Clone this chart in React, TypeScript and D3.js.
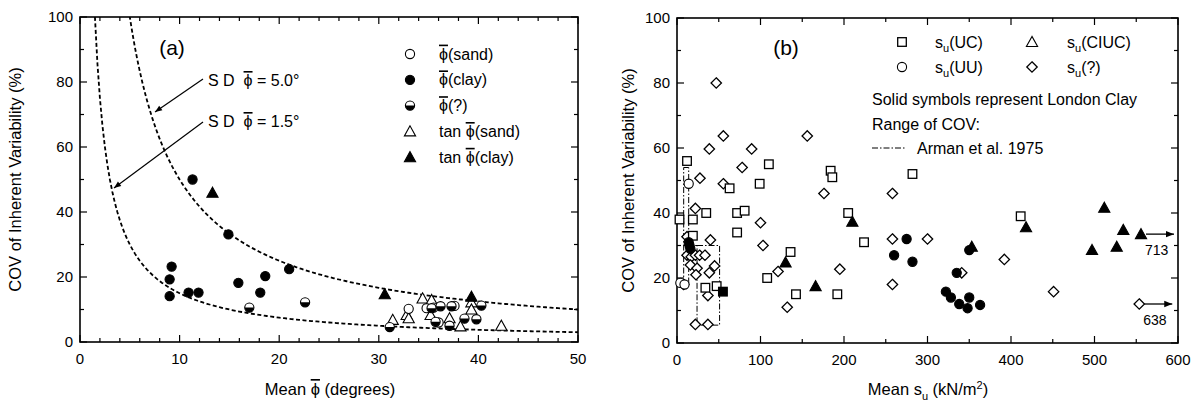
import React from "react";
import * as d3 from "d3";

// ---- panel (a): mean friction angle (deg) vs COV (%)
const phiSand = [[33.0, 10.2], [34.8, 10.4], [35.5, 10.6], [37.6, 11.1], [36.0, 6.0]];
const phiClay = [
  [11.3, 50], [14.9, 33.1], [9.2, 23.2], [9.0, 19.3], [9.0, 14.1], [10.9, 15.2],
  [11.9, 15.2], [15.9, 18.2], [18.1, 15.2], [18.6, 20.3], [21.0, 22.4],
];
const phiUnknown = [
  [17.0, 10.6], [22.6, 12.2], [31.1, 4.6], [35.3, 10.4], [36.2, 11.0], [37.3, 11.0],
  [35.7, 6.2], [37.1, 5.0], [38.6, 7.2], [39.8, 7.0], [40.3, 11.2],
];
const tanSand = [
  [31.4, 6.8], [32.8, 8.3], [33.0, 7.3], [34.4, 13.4], [35.3, 12.9], [35.2, 8.3],
  [37.1, 7.3], [38.2, 4.8], [39.3, 12.2], [39.3, 10.0], [42.3, 5.0],
];
const tanClay = [[13.3, 45.9], [30.6, 14.7], [39.3, 13.9]];
const sdValues = [5.0, 1.5];

// ---- panel (b): mean su (kN/m2) vs COV (%)
const suUC = [
  [12, 56], [110, 55], [63, 47.6], [99, 49], [184, 53], [186, 51], [282, 52], [72, 40],
  [81, 40.7], [72, 34], [205, 40], [224, 31], [136, 28], [108, 20], [142.5, 15], [192, 15],
  [411.6, 39], [3, 38], [19, 38], [19, 33], [35, 40], [47.5, 17.5], [34, 17],
];
const suUCLondon = [[55, 15.8]];
const suUU = [[14, 49], [4, 18.5], [9, 18]];
const suUULondon = [
  [14, 31], [15, 30], [16, 29], [275, 32], [260, 27], [282, 25], [350, 28.6], [335, 21.6],
  [322, 15.8], [328, 14], [338, 12], [348, 10.7], [350, 14], [363, 11.7],
];
const suCIUCLondon = [
  [210, 37.3], [130, 24.8], [166, 17.5], [353, 29.6], [418, 35.6], [511.7, 41.6],
  [534.5, 34.8], [555.7, 33.5], [497, 28.6], [526.6, 29.6],
];
const suUnknown = [
  [47, 80], [55.5, 63.7], [38.7, 59.7], [89.4, 59.7], [156, 63.7], [78, 54], [27.5, 50.7],
  [55.5, 49], [176, 46], [258, 46], [100, 37], [103, 30], [258, 32], [300, 32], [121, 22],
  [195, 22.7], [258, 18], [132, 11], [392, 25.7], [341, 21.6], [451, 15.8], [553.6, 12],
  [22, 41.4], [12, 32.7], [40, 31.7], [12, 27], [17, 26.5], [22, 27], [27, 27], [33.5, 27],
  [45, 23.7], [38.7, 21.6], [16, 24], [24, 23], [22.7, 21], [37, 14.6], [22, 5.7], [37, 5.7],
  [8, 18],
];
// off-scale points: [su shown, cov, real value]
const offScale = [[555.7, 33.5, "713"], [553.6, 12, "638"]];
// Arman et al. 1975 ranges: [su0, su1, cov0, cov1]
const armanBoxes = [[8, 14, 18, 54], [24, 51, 5.5, 30]];

const FONT = "Liberation Sans, Arial, Helvetica, sans-serif";
const NARROW = "Liberation Sans Narrow, Liberation Sans, Arial, sans-serif";

function Sym({ type, x, y }) {
  const r = 4.6;
  const sw = 1.1;
  if (type === "circle" || type === "dot") {
    return <circle cx={x} cy={y} r={r} fill={type === "dot" ? "#000" : "#fff"} stroke="#000" strokeWidth={sw} />;
  }
  if (type === "half") {
    return (
      <g>
        <circle cx={x} cy={y} r={r} fill="#fff" stroke="#000" strokeWidth={sw} />
        <path d={`M${x - r},${y} A${r},${r} 0 0 0 ${x + r},${y} Z`} fill="#000" />
      </g>
    );
  }
  if (type === "tri" || type === "trif") {
    const s = 5.6;
    return (
      <polygon
        points={`${x},${y - s} ${x - s},${y + s * 0.8} ${x + s},${y + s * 0.8}`}
        fill={type === "trif" ? "#000" : "#fff"}
        stroke="#000"
        strokeWidth={sw}
      />
    );
  }
  if (type === "sq" || type === "sqf") {
    const s = 4.3;
    return <rect x={x - s} y={y - s} width={s * 2} height={s * 2} fill={type === "sqf" ? "#000" : "#fff"} stroke="#000" strokeWidth={1.3} />;
  }
  const s = 5.2;
  return (
    <polygon points={`${x},${y - s} ${x + s},${y} ${x},${y + s} ${x - s},${y}`} fill="#fff" stroke="#000" strokeWidth={1.3} />
  );
}

// phi with a bar over it
const Phi = () => <tspan style={{ textDecoration: "overline" }}>{"\u03D5"}</tspan>;

function Frame({ x, y, xMinor, xMajor, yMinor, yMajor, xLabelX }) {
  const [x0, x1] = x.range();
  const [y0, y1] = y.range();
  const xt = d3.range(x.domain()[0], x.domain()[1] + 1e-9, xMinor);
  const yt = d3.range(y.domain()[0], y.domain()[1] + 1e-9, yMinor);
  const isMaj = (v, m) => Math.abs(v / m - Math.round(v / m)) < 1e-6;
  return (
    <g>
      {xt.map((v) => {
        const L = isMaj(v, xMajor) ? 7 : 4;
        return (
          <g key={"x" + v}>
            <line x1={x(v)} x2={x(v)} y1={y0} y2={y0 - L} stroke="#000" strokeWidth={1.2} />
            <line x1={x(v)} x2={x(v)} y1={y1} y2={y1 + L} stroke="#000" strokeWidth={1.2} />
            {isMaj(v, xMajor) && (
              <text x={x(v)} y={y0 + 22} textAnchor="middle" fontSize={15} fontFamily={NARROW}>
                {v}
              </text>
            )}
          </g>
        );
      })}
      {yt.map((v) => {
        const L = isMaj(v, yMajor) ? 7 : 4;
        return (
          <g key={"y" + v}>
            <line x1={x0} x2={x0 + L} y1={y(v)} y2={y(v)} stroke="#000" strokeWidth={1.2} />
            <line x1={x1} x2={x1 - L} y1={y(v)} y2={y(v)} stroke="#000" strokeWidth={1.2} />
            {isMaj(v, yMajor) && (
              <text x={x0 - 7} y={y(v)} dy="0.35em" textAnchor="end" fontSize={15} fontFamily={NARROW}>
                {v}
              </text>
            )}
          </g>
        );
      })}
      <rect x={x0} y={y1} width={x1 - x0} height={y0 - y1} fill="none" stroke="#000" strokeWidth={1.6} />
      <text
        transform={`translate(${xLabelX},${(y0 + y1) / 2}) rotate(-90)`}
        textAnchor="middle"
        dy="0.35em"
        fontSize={16.5}
        fontFamily={FONT}
      >
        COV of Inherent Variability (%)
      </text>
    </g>
  );
}

export default function App() {
  const xa = d3.scaleLinear().domain([0, 50]).range([80, 578]);
  const ya = d3.scaleLinear().domain([0, 100]).range([342, 17]);
  const xb = d3.scaleLinear().domain([0, 600]).range([677, 1178]);
  const yb = d3.scaleLinear().domain([0, 100]).range([343, 18]);

  const curve = d3
    .line()
    .x((d) => xa(d[0]))
    .y((d) => ya(d[1]));
  const means = d3.range(1.0, 50.01, 0.25);

  const legendA = [
    ["circle", "", "(sand)"],
    ["dot", "", "(clay)"],
    ["half", "", "(?)"],
    ["tri", "tan ", "(sand)"],
    ["trif", "tan ", "(clay)"],
  ];

  return (
    <svg width={1198} height={405} style={{ position: "absolute", left: 0, top: 0, background: "#fff" }}>
      <defs>
        <clipPath id="clipA">
          <rect x={80} y={17} width={498} height={325} />
        </clipPath>
        <marker id="arr" viewBox="0 0 10 10" refX={10} refY={5} markerWidth={9} markerHeight={7} orient="auto" markerUnits="userSpaceOnUse">
          <path d="M0,1 L10,5 L0,9 Z" fill="#000" />
        </marker>
        <marker id="arrB" viewBox="0 0 10 10" refX={10} refY={5} markerWidth={14} markerHeight={8} orient="auto" markerUnits="userSpaceOnUse">
          <path d="M0,1 L10,5 L0,9 Z" fill="#000" />
        </marker>
      </defs>

      {/* ---------- panel (a) ---------- */}
      <Frame x={xa} y={ya} xMinor={2} xMajor={10} yMinor={10} yMajor={20} xLabelX={15} />
      <g clipPath="url(#clipA)">
        {sdValues.map((sd) => (
          <path
            key={sd}
            d={curve(means.map((m) => [m, (sd / m) * 100]))}
            fill="none"
            stroke="#000"
            strokeWidth={1.8}
            strokeDasharray="4,2.5"
          />
        ))}
      </g>
      <line x1={203} y1={79} x2={155} y2={112} stroke="#000" strokeWidth={1.2} markerEnd="url(#arr)" />
      <line x1={203} y1={122} x2={114} y2={188} stroke="#000" strokeWidth={1.2} markerEnd="url(#arr)" />
      <text x={208} y={86} fontSize={16} fontFamily={FONT} xmlSpace="preserve">
        {"S D  "}
        <Phi />
        {" = 5.0°"}
      </text>
      <text x={208} y={127} fontSize={16} fontFamily={FONT} xmlSpace="preserve">
        {"S D  "}
        <Phi />
        {" = 1.5°"}
      </text>
      <text x={172} y={55} textAnchor="middle" fontSize={21} fontFamily={FONT}>
        (a)
      </text>
      {legendA.map(([t, pre, post], i) => (
        <g key={t}>
          <Sym type={t} x={410} y={54 + i * 25.8} />
          <text x={439} y={54 + i * 25.8} dy="0.35em" fontSize={16} fontFamily={FONT} xmlSpace="preserve">
            {pre}
            <Phi />
            {post}
          </text>
        </g>
      ))}
      {tanSand.map((d, i) => <Sym key={"ts" + i} type="tri" x={xa(d[0])} y={ya(d[1])} />)}
      {phiSand.map((d, i) => <Sym key={"ps" + i} type="circle" x={xa(d[0])} y={ya(d[1])} />)}
      {phiUnknown.map((d, i) => <Sym key={"pu" + i} type="half" x={xa(d[0])} y={ya(d[1])} />)}
      {phiClay.map((d, i) => <Sym key={"pc" + i} type="dot" x={xa(d[0])} y={ya(d[1])} />)}
      {tanClay.map((d, i) => <Sym key={"tc" + i} type="trif" x={xa(d[0])} y={ya(d[1])} />)}
      <text x={330} y={395} textAnchor="middle" fontSize={16.5} fontFamily={FONT} xmlSpace="preserve">
        {"Mean "}
        <Phi />
        {" (degrees)"}
      </text>

      {/* ---------- panel (b) ---------- */}
      <Frame x={xb} y={yb} xMinor={50} xMajor={100} yMinor={10} yMajor={20} xLabelX={628} />
      {armanBoxes.map((b, i) => (
        <rect
          key={"bx" + i}
          x={xb(b[0])}
          y={yb(b[3])}
          width={xb(b[1]) - xb(b[0])}
          height={yb(b[2]) - yb(b[3])}
          fill="none"
          stroke="#000"
          strokeWidth={1}
          strokeDasharray="6,2,1.5,2"
        />
      ))}
      <line x1={xb(armanBoxes[0][0])} x2={xb(armanBoxes[1][0])} y1={yb(armanBoxes[1][3])} y2={yb(armanBoxes[1][3])} stroke="#000" strokeWidth={1} strokeDasharray="6,2,1.5,2" />
      {suUnknown.map((d, i) => <Sym key={"su" + i} type="dia" x={xb(d[0])} y={yb(d[1])} />)}
      {suUC.map((d, i) => <Sym key={"uc" + i} type="sq" x={xb(d[0])} y={yb(d[1])} />)}
      {suUU.map((d, i) => <Sym key={"uu" + i} type="circle" x={xb(d[0])} y={yb(d[1])} />)}
      {suUCLondon.map((d, i) => <Sym key={"ucl" + i} type="sqf" x={xb(d[0])} y={yb(d[1])} />)}
      {suUULondon.map((d, i) => <Sym key={"uul" + i} type="dot" x={xb(d[0])} y={yb(d[1])} />)}
      {suCIUCLondon.map((d, i) => <Sym key={"ci" + i} type="trif" x={xb(d[0])} y={yb(d[1])} />)}
      {offScale.map((d) => (
        <g key={d[2]}>
          <line x1={xb(d[0]) + 5} x2={xb(d[0]) + 33} y1={yb(d[1])} y2={yb(d[1])} stroke="#000" strokeWidth={1.3} markerEnd="url(#arrB)" />
          <text x={xb(d[0]) + 4} y={yb(d[1]) + 16} dy="0.35em" fontSize={14} fontFamily={FONT}>
            {d[2]}
          </text>
        </g>
      ))}
      <text x={786} y={55} textAnchor="middle" fontSize={21} fontFamily={FONT}>
        (b)
      </text>
      <Sym type="sq" x={902} y={42} />
      <text x={935} y={42} dy="0.35em" fontSize={16} fontFamily={FONT}>
        s<tspan dy="4" fontSize={11}>u</tspan>
        <tspan dy="-4">(UC)</tspan>
      </text>
      <Sym type="circle" x={902} y={67} />
      <text x={935} y={67} dy="0.35em" fontSize={16} fontFamily={FONT}>
        s<tspan dy="4" fontSize={11}>u</tspan>
        <tspan dy="-4">(UU)</tspan>
      </text>
      <Sym type="tri" x={1032} y={42} />
      <text x={1067} y={42} dy="0.35em" fontSize={16} fontFamily={FONT}>
        s<tspan dy="4" fontSize={11}>u</tspan>
        <tspan dy="-4">(CIUC)</tspan>
      </text>
      <Sym type="dia" x={1032} y={67} />
      <text x={1067} y={67} dy="0.35em" fontSize={16} fontFamily={FONT}>
        s<tspan dy="4" fontSize={11}>u</tspan>
        <tspan dy="-4">(?)</tspan>
      </text>
      <text x={872} y={99} dy="0.35em" fontSize={16} fontFamily={FONT}>
        Solid symbols represent London Clay
      </text>
      <text x={872} y={124} dy="0.35em" fontSize={16} fontFamily={FONT}>
        Range of COV:
      </text>
      <line x1={872} x2={906} y1={148} y2={148} stroke="#000" strokeWidth={1} strokeDasharray="6,2,1.5,2" />
      <text x={917} y={148} dy="0.35em" fontSize={16} fontFamily={FONT}>
        Arman et al. 1975
      </text>
      <text x={928} y={395} textAnchor="middle" fontSize={16.5} fontFamily={FONT}>
        Mean s<tspan dy="5" fontSize={11}>u</tspan>
        <tspan dy="-5"> (kN/m</tspan>
        <tspan dy="-6" fontSize={11}>2</tspan>
        <tspan dy="6">)</tspan>
      </text>
    </svg>
  );
}
